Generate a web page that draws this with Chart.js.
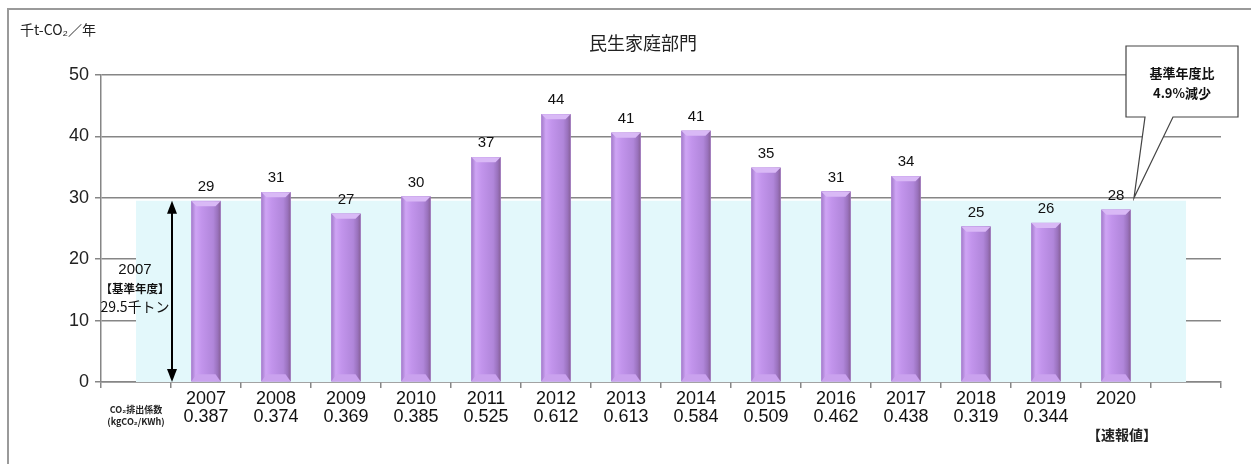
<!DOCTYPE html>
<html>
<head>
<meta charset="utf-8">
<script src="https://cdn.jsdelivr.net/npm/chart.js@4"></script>
<style>
  html, body { margin: 0; padding: 0; background: #fff; }
</style>
</head>
<body>
<canvas id="myChart" width="1251" height="464"></canvas>
<script>
// categories: an empty slot on each side leaves room for the base-year band
var years = ['', '2007', '2008', '2009', '2010', '2011', '2012', '2013', '2014', '2015', '2016', '2017', '2018', '2019', '2020', ''];
var factors = ['', '0.387', '0.374', '0.369', '0.385', '0.525', '0.612', '0.613', '0.584', '0.509', '0.462', '0.438', '0.319', '0.344', '', ''];
var emissions = [null, 29.45, 30.9, 27.4, 30.2, 36.6, 43.6, 40.6, 40.9, 34.9, 31.0, 33.5, 25.3, 25.9, 28.05, null];
var baseYearValue = 29.5;
var baseBand = years.map(function () { return baseYearValue; });

var numFont = "'Liberation Sans', Arial, sans-serif";
var jpFont = "'Noto Sans CJK JP', sans-serif";
var gridColor = '#868686';

Chart.defaults.color = '#111';

var extras = {
    id: 'extras',
    afterDatasetsDraw: function (chart) {
        var ctx = chart.ctx;
        var meta = chart.getDatasetMeta(0);
        var x = chart.scales.x, y = chart.scales.y;

        // bevelled look on each bar
        meta.data.forEach(function (bar, i) {
            if (emissions[i] == null) return;
            var p = bar.getProps(['x', 'y', 'base', 'width'], true);
            var l = p.x - p.width / 2, r = p.x + p.width / 2, t = p.y, b = p.base, e = 5;
            ctx.save();
            var g = ctx.createLinearGradient(l, 0, r, 0);
            g.addColorStop(0, '#a47ccb');
            g.addColorStop(0.15, '#cea4f4');
            g.addColorStop(0.35, '#c294ec');
            g.addColorStop(0.75, '#b086da');
            g.addColorStop(0.9, '#9a72bd');
            g.addColorStop(1, '#876199');
            ctx.fillStyle = g;
            ctx.fillRect(l, t, p.width, b - t);
            // top cap
            ctx.fillStyle = '#d9b9f6';
            ctx.beginPath();
            ctx.moveTo(l, t); ctx.lineTo(r, t); ctx.lineTo(r - e, t + e); ctx.lineTo(l + e, t + e);
            ctx.closePath(); ctx.fill();
            // bottom cap
            ctx.fillStyle = '#caa2ee';
            ctx.beginPath();
            ctx.moveTo(l, b); ctx.lineTo(r, b); ctx.lineTo(r - e, b - e - 2); ctx.lineTo(l + e, b - e - 2);
            ctx.closePath(); ctx.fill();
            ctx.restore();

            // value label
            ctx.save();
            ctx.font = '15px ' + numFont;
            ctx.fillStyle = '#111';
            ctx.textAlign = 'center';
            ctx.textBaseline = 'middle';
            ctx.fillText(String(Math.round(emissions[i])), p.x, t - 14);
            ctx.restore();
        });

        // double arrow for the base year
        var ax = (x.getPixelForValue(0) + x.getPixelForValue(1)) / 2 + 1;
        var top = y.getPixelForValue(baseYearValue), bot = y.getPixelForValue(0);
        ctx.save();
        ctx.strokeStyle = '#000';
        ctx.fillStyle = '#000';
        ctx.lineWidth = 2;
        ctx.beginPath();
        ctx.moveTo(ax, top + 10); ctx.lineTo(ax, bot - 10);
        ctx.stroke();
        ctx.beginPath();
        ctx.moveTo(ax, top); ctx.lineTo(ax - 5, top + 13); ctx.lineTo(ax + 5, top + 13); ctx.closePath(); ctx.fill();
        ctx.beginPath();
        ctx.moveTo(ax, bot); ctx.lineTo(ax - 5, bot - 13); ctx.lineTo(ax + 5, bot - 13); ctx.closePath(); ctx.fill();

        // base year note
        var tx = x.getPixelForValue(0) - 1;
        ctx.textAlign = 'center';
        ctx.textBaseline = 'middle';
        ctx.fillStyle = '#111';
        ctx.font = '15px ' + numFont;
        ctx.fillText('2007', tx, 270);
        ctx.font = 'bold 11.5px ' + jpFont;
        ctx.fillText('【基準年度】', tx, 289);
        ctx.font = '14px ' + jpFont;
        ctx.fillText(baseYearValue + '千トン', tx, 307);
        ctx.restore();
    },
    afterDraw: function (chart) {
        var ctx = chart.ctx;
        var x = chart.scales.x, y = chart.scales.y;
        ctx.save();

        // outer frame
        ctx.strokeStyle = '#9a9a9a';
        ctx.lineWidth = 2;
        ctx.strokeRect(8, 9, 1260, 470);

        ctx.fillStyle = '#222';
        ctx.textBaseline = 'middle';

        // title
        ctx.textAlign = 'center';
        ctx.font = '18px ' + jpFont;
        ctx.fillText('民生家庭部門', 643, 43);

        // unit
        ctx.textAlign = 'left';
        ctx.font = '14px ' + jpFont;
        ctx.fillText('千t-CO₂／年', 20, 30);

        // factor caption under the empty first slot
        ctx.textAlign = 'center';
        ctx.font = 'bold 9px ' + jpFont;
        var cx = x.getPixelForValue(0);
        ctx.fillText('CO₂排出係数', cx, 410);
        ctx.fillText('(kgCO₂/KWh)', cx, 422);

        // preliminary value note under 2020
        ctx.font = 'bold 14px ' + jpFont;
        ctx.fillText('【速報値】', x.getPixelForValue(14) + 6, 435);

        // callout box
        var tipX = x.getPixelForValue(14) + 18, tipY = y.getPixelForValue(30);
        ctx.strokeStyle = '#444';
        ctx.lineWidth = 1.2;
        ctx.fillStyle = '#fff';
        ctx.beginPath();
        ctx.moveTo(1126, 46); ctx.lineTo(1238, 46); ctx.lineTo(1238, 117);
        ctx.lineTo(1173, 117); ctx.lineTo(tipX, tipY); ctx.lineTo(1145, 117);
        ctx.lineTo(1126, 117); ctx.closePath();
        ctx.fill(); ctx.stroke();
        ctx.fillStyle = '#111';
        ctx.font = 'bold 13px ' + jpFont;
        ctx.fillText('基準年度比', 1182, 73);
        ctx.fillText('4.9%減少', 1182, 93);
        ctx.restore();
    }
};

var ctx = document.getElementById('myChart').getContext('2d');
var myChart = new Chart(ctx, {
    type: 'bar',
    data: {
        labels: years.map(function (yr, i) { return [yr, factors[i]]; }),
        datasets: [{
            type: 'bar',
            data: emissions,
            backgroundColor: '#b68ade',
            barThickness: 29,
            order: 1
        }, {
            type: 'line',
            data: baseBand,
            fill: 'origin',
            backgroundColor: '#e3f8fb',
            borderWidth: 0,
            pointRadius: 0,
            order: 2
        }]
    },
    options: {
        responsive: false,
        animation: false,
        layout: { padding: { top: 75, right: 30, left: 0, bottom: 0 } },
        plugins: {
            legend: { display: false },
            tooltip: { enabled: false }
        },
        scales: {
            x: {
                z: 1,
                grid: { drawOnChartArea: false, tickLength: 6, color: gridColor, lineWidth: 1.5, offset: true },
                border: { color: gridColor, width: 1.5 },
                ticks: { font: { family: numFont, size: 18, lineHeight: 1 }, color: '#111', padding: 2, maxRotation: 0, autoSkip: false },
                afterFit: function (s) { s.height = 82; }
            },
            y: {
                min: 0,
                max: 50,
                grid: { color: gridColor, lineWidth: 1.5, tickLength: 6 },
                border: { color: gridColor, width: 1.5 },
                ticks: { stepSize: 10, font: { family: numFont, size: 18 }, color: '#222', padding: 6 },
                afterFit: function (s) { s.width = 101; }
            }
        }
    },
    plugins: [extras]
});
</script>
</body>
</html>
